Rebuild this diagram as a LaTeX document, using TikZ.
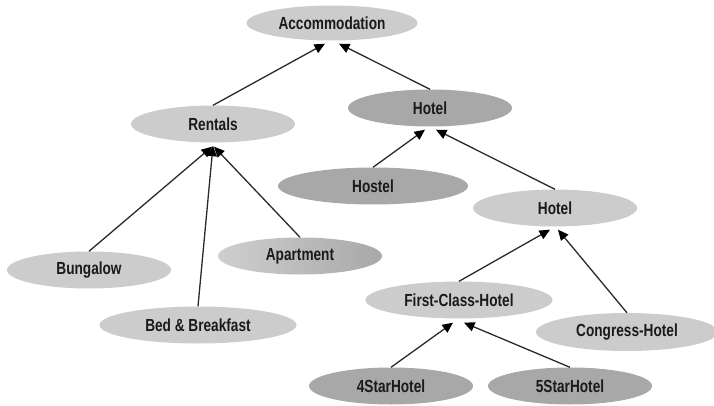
\documentclass[tikz,border=0pt]{standalone}
\usepackage{fontspec}
\usepackage{graphicx}
\setmainfont{Liberation Sans}
\usetikzlibrary{shapes.geometric,arrows.meta}
\newcommand{\lbl}[1]{\scalebox{0.78}[1]{\bfseries #1}}
\definecolor{lightfill}{HTML}{CCCCCC}
\definecolor{darkfill}{HTML}{A8A8A8}
\definecolor{edgeline}{HTML}{2A2A2A}
\definecolor{labeltext}{HTML}{1A1A1A}
\begin{document}
\begin{tikzpicture}[x=1pt,y=-1pt,
  concept/.style={ellipse, inner sep=0pt, minimum height=37pt, minimum width=164pt,
    font=\fontsize{17.5}{20}\selectfont, text=labeltext},
  lightc/.style={concept, fill=lightfill},
  darkc/.style={concept, fill=darkfill},
  fadec/.style={concept, left color=lightfill!95!white, right color=darkfill},
  isa/.style={draw=edgeline, line width=1.3pt,
    -{Triangle[length=10.5pt,width=9.5pt,color=black]}}]
  \clip (0,0) rectangle (714,406);

  % concepts
  \node[lightc, minimum width=171pt, minimum height=35pt] (acc)  at (332,23)  {\lbl{Accommodation}};
  \node[lightc] (rent) at (213,124) {\lbl{Rentals}};
  \node[darkc]  (hot1) at (430,108) {\lbl{Hotel}};
  \node[darkc, minimum width=190pt]  (host) at (373,186) {\lbl{Hostel}};
  \node[lightc] (hot2) at (555,208) {\lbl{Hotel}};
  \node[lightc] (bung) at (89,270)  {\lbl{Bungalow}};
  \node[lightc, minimum width=197pt] (bnb)  at (198,325) {\lbl{Bed \& Breakfast}};
  \node[fadec]  (apt)  at (300,256) {\lbl{Apartment}};
  \node[lightc, minimum width=187pt] (fch)  at (459,300) {\lbl{First-Class-Hotel}};
  \node[lightc, minimum width=182pt, minimum height=38pt] (cong) at (627,332) {\lbl{Congress-Hotel}};
  \node[darkc]  (four) at (391,386) {\lbl{4StarHotel}};
  \node[darkc]  (five) at (570,386) {\lbl{5StarHotel}};

  % is-a links
  \draw[isa] (rent.north) -- ([xshift=-7pt,yshift=-3pt]acc.south);
  \draw[isa] (hot1.north) -- ([xshift=7pt,yshift=-3pt]acc.south);

  \draw[isa] (bung.north) -- ([xshift=-1pt,yshift=-4pt]rent.south);
  \draw[isa] (bnb.north)  -- ([yshift=-3pt]rent.south);
  \draw[isa] (apt.north)  -- ([xshift=1pt,yshift=-4pt]rent.south);

  \draw[isa] (host.north) -- ([xshift=-5pt,yshift=-3pt]hot1.south);
  \draw[isa] (hot2.north) -- ([xshift=6pt,yshift=-3pt]hot1.south);

  \draw[isa] (fch.north)  -- ([xshift=-5pt,yshift=-3pt]hot2.south);
  \draw[isa] (cong.north) -- ([xshift=3pt,yshift=-3pt]hot2.south);

  \draw[isa] (four.north) -- ([xshift=-6pt,yshift=-4pt]fch.south);
  \draw[isa] (five.north) -- ([xshift=5pt,yshift=-4pt]fch.south);
\end{tikzpicture}
\end{document}
